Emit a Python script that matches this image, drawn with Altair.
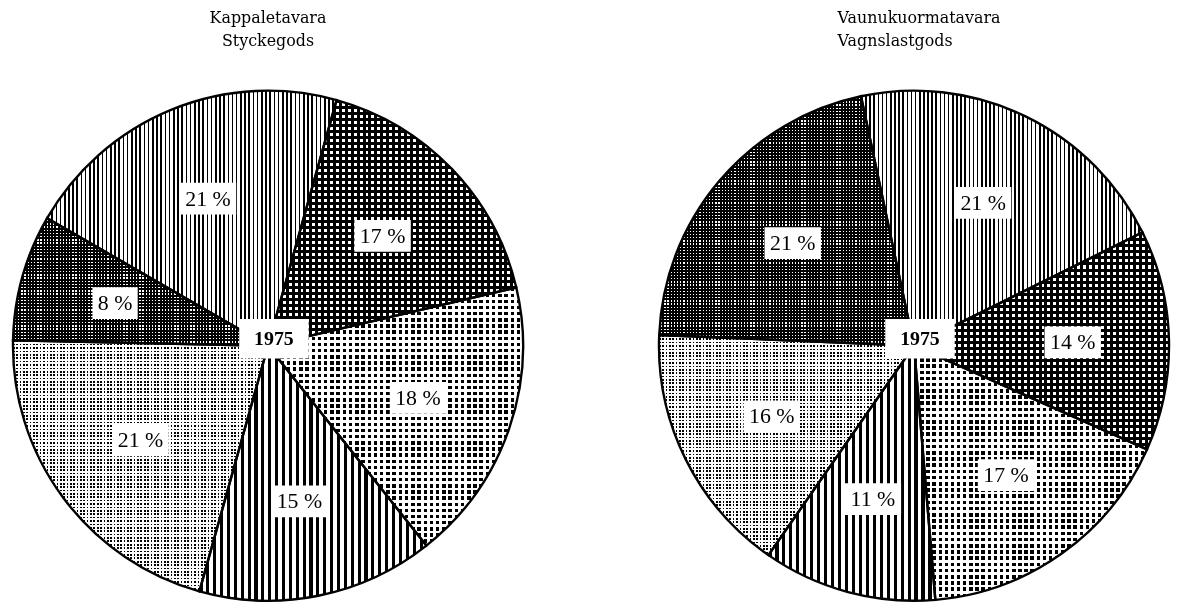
import math
import altair as alt
import pandas as pd

# ---------------- data ----------------
categories = ["A", "B", "C", "D", "E", "F"]
left_values = [21, 17, 18, 15, 21, 8]
right_values = [21, 14, 17, 11, 16, 21]
left_title = ["Kappaletavara", "Styckegods"]
right_title = ["Vaunukuormatavara", "Vagnslastgods"]
year_label = ["1975"]

# ---------------- layout / style constants ----------------
LEFT_START = 300.0   # degrees, clockwise from 12 o'clock
RIGHT_START = 348.0
R = 257
SIZE = 2 * R
LABEL_R = 160
SERIF = "Liberation Serif"

# halftone-like patterns per category: (kind, period px, black fraction)
PATTERNS = {
    "A": ("vstripe", 4.2, 0.38),
    "B": ("holes", 6.0, 0.50),
    "C": ("dots", 6.2, 0.56),
    "D": ("vstripe", 7.0, 0.45),
    "E": ("dots", 3.4, 0.50),
    "F": ("holes", 3.2, 0.60),
}


def stripes(n, black, direction, bg):
    n = max(int(n), 1)
    stops = []
    for i in range(n):
        a = round(i / n, 6)
        b = round((i + black) / n, 6)
        c = round((i + 1) / n, 6)
        stops += [
            {"offset": a, "color": "black"},
            {"offset": b, "color": "black"},
            {"offset": b, "color": bg},
            {"offset": c, "color": bg},
        ]
    if direction == "v":
        return {"gradient": "linear", "x1": 0, "y1": 0, "x2": 1, "y2": 0, "stops": stops}
    return {"gradient": "linear", "x1": 0, "y1": 0, "x2": 0, "y2": 1, "stops": stops}


def arc_bbox(a0, a1, r):
    pts = [(0.0, 0.0)]
    for a in (a0, a1):
        t = math.radians(a)
        pts.append((r * math.sin(t), -r * math.cos(t)))
    k = math.ceil(a0 / 90.0)
    while k * 90 <= a1:
        t = math.radians(k * 90)
        pts.append((r * math.sin(t), -r * math.cos(t)))
        k += 1
    xs = [p[0] for p in pts]
    ys = [p[1] for p in pts]
    return max(xs) - min(xs), max(ys) - min(ys)


def pie(values, start_deg, title_lines, align, dx):
    df = pd.DataFrame({"cat": categories, "value": values, "idx": list(range(len(values)))})
    s = math.radians(start_deg)
    total = float(sum(values))

    base = (
        alt.Chart(df)
        .transform_window(cum="sum(value)", sort=[alt.SortField("idx")], frame=[None, 0])
        .transform_calculate(start="datum.cum - datum.value")
        .transform_calculate(end="datum.cum")
        .transform_calculate(ang=f"{s} + (datum.start + datum.end) / (2 * {total}) * 2 * PI")
        .transform_calculate(label="datum.value + ' %'")
        .transform_calculate(lx=f"{LABEL_R} * sin(datum.ang)")
        .transform_calculate(ly=f"{LABEL_R} * cos(datum.ang)")
        .transform_calculate(hw="6 + 5.6 * length(datum.label)")
        .transform_calculate(x0="datum.lx - datum.hw", x1="datum.lx + datum.hw")
        .transform_calculate(y0="datum.ly - 16", y1="datum.ly + 16")
    )

    theta = alt.Theta("start:Q", scale=alt.Scale(domain=[0, total], range=[s, s + 2 * math.pi]), stack=None)
    theta2 = alt.Theta2("end:Q")
    xs = alt.Scale(domain=[-R, R], nice=False, zero=False)
    ys = alt.Scale(domain=[-R, R], nice=False, zero=False)

    layers = []
    cum = 0.0
    for i, cat in enumerate(categories):
        a0 = start_deg + cum / total * 360.0
        cum += values[i]
        a1 = start_deg + cum / total * 360.0
        w, h = arc_bbox(a0, a1, R)
        kind, p, black = PATTERNS[cat]
        sl = base.transform_filter(alt.datum.idx == i)
        layers.append(
            sl.mark_arc(radius=R, fill=stripes(round(w / p), black, "v", "white"), strokeWidth=0)
            .encode(theta=theta, theta2=theta2)
        )
        if kind == "holes":
            layers.append(
                sl.mark_arc(radius=R, fill=stripes(round(h / p), black, "h", "rgba(0,0,0,0)"), strokeWidth=0)
                .encode(theta=theta, theta2=theta2)
            )
        elif kind == "dots":
            layers.append(
                sl.mark_arc(radius=R, fill=stripes(round(h / p), black, "h", "white"), strokeWidth=0, blend="lighten")
                .encode(theta=theta, theta2=theta2)
            )

    outline = base.mark_arc(radius=R, fill="white", fillOpacity=0, stroke="black", strokeWidth=2.4).encode(
        theta=theta, theta2=theta2
    )
    layers.append(outline)

    boxes = base.mark_rect(fill="white").encode(
        x=alt.X("x0:Q", scale=xs, axis=None),
        x2="x1:Q",
        y=alt.Y("y0:Q", scale=ys, axis=None),
        y2="y1:Q",
    )
    texts = base.mark_text(font=SERIF, fontSize=22, color="black", baseline="middle", align="center").encode(
        x=alt.X("lx:Q", scale=xs, axis=None),
        y=alt.Y("ly:Q", scale=ys, axis=None),
        text="label:N",
    )
    layers += [boxes, texts]

    ydf = pd.DataFrame({"t": year_label})
    ybase = (
        alt.Chart(ydf)
        .transform_calculate(cx="6", cy="7")
        .transform_calculate(x0="datum.cx - 35", x1="datum.cx + 35", y0="datum.cy - 20", y1="datum.cy + 20")
    )
    ybox = ybase.mark_rect(fill="white").encode(
        x=alt.X("x0:Q", scale=xs, axis=None), x2="x1:Q",
        y=alt.Y("y0:Q", scale=ys, axis=None), y2="y1:Q",
    )
    ytext = ybase.mark_text(font=SERIF, fontSize=20, fontWeight="bold", color="black",
                            baseline="middle", align="center").encode(
        x=alt.X("cx:Q", scale=xs, axis=None),
        y=alt.Y("cy:Q", scale=ys, axis=None),
        text="t:N",
    )
    layers += [ybox, ytext]

    title = alt.TitleParams(
        text=title_lines, font="DejaVu Serif", fontSize=16, fontWeight="normal",
        lineHeight=23, color="black", anchor="middle", align=align, dx=dx, offset=37,
    )
    return alt.layer(*layers).properties(width=SIZE, height=SIZE, title=title)


left = pie(left_values, LEFT_START, left_title, "center", 0)
right = pie(right_values, RIGHT_START, right_title, "left", -77)

chart = (
    alt.hconcat(left, right, spacing=127)
    .properties(padding=0, background="white")
    .configure_view(stroke=None)
)

chart.save("out.html", embed_options={"renderer": "svg", "actions": False})
